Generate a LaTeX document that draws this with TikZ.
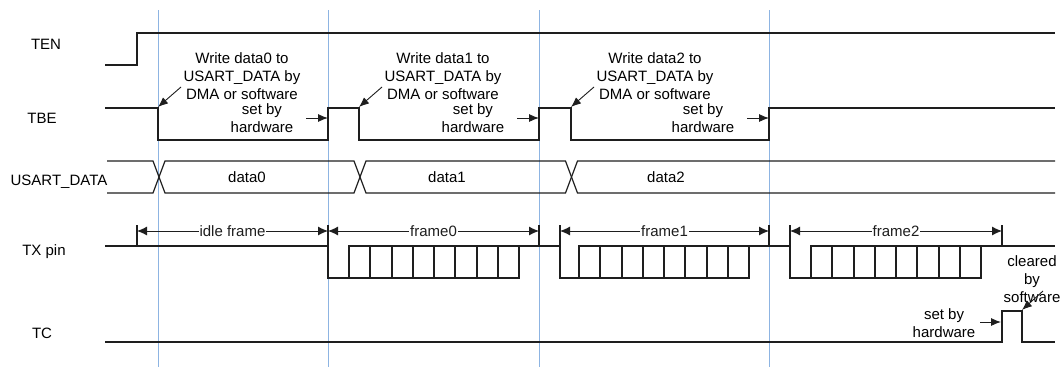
\documentclass[tikz,border=0pt]{standalone}
\usepackage{fontspec}
\setmainfont{Liberation Sans}
\usetikzlibrary{arrows.meta}
\definecolor{guideblue}{RGB}{141,180,226}
\definecolor{wave}{RGB}{30,30,30}

\begin{document}
\begin{tikzpicture}[x=1pt,y=-1pt,
        sig/.style={line width=1.2pt,wave},
        guide/.style={guideblue,line width=1pt},
        dim/.style={{Latex[length=10pt,width=9pt]}-{Latex[length=10pt,width=9pt]},line width=0.9pt,wave},
        note/.style={-{Latex[length=10pt,width=8pt]},line width=0.9pt,wave},
        lbl/.style={inner sep=0pt,font=\fontsize{15}{18}\selectfont,align=center},
        dimlbl/.style={lbl,fill=white,inner xsep=1pt,inner ysep=2pt}]
    \useasboundingbox (0,0) rectangle (1063,367);
    \foreach \x in {158,328,539,769}
        \draw[guide] (\x,10) -- (\x,367);

    \node[lbl] (ten) at (46,44) {TEN};
    \node[lbl] (tbe) at (42,118) {TBE};
    \node[lbl] (udata) at (59,182) {USART\_DATA};
    \node[lbl] (txpin) at (44,252) {TX pin};
    \node[lbl] (tc) at (42,333) {TC};

    \draw[sig] (105,65) -- (137,65) -- (137,33) -- (1055,33);

    \draw[sig] (105,108) -- (158,108) -- (158,140) -- (328,140) -- (328,108)
        -- (359,108) -- (359,140) -- (539,140) -- (539,108)
        -- (571,108) -- (571,140) -- (769,140) -- (769,108) -- (1055,108);
    \foreach \f/\r/\n in {158/328/0,359/539/1,571/769/2} {
        \node[lbl] (write\n) at (\f+84,76.5) {Write data\n{} to\\USART\_DATA by\\DMA or software};
        \node[lbl] (hwset\n) at (\r-66,118) {set by\\hardware};
        \coordinate (wfrom\n) at (\f+23,87);
        \coordinate (wto\n) at (\f,107);
        \coordinate (sfrom\n) at (\r-22,118);
        \coordinate (sto\n) at (\r,118);
        \draw[note] (wfrom\n) -- (wto\n);
        \draw[note] (sfrom\n) -- (sto\n);
    }

    \draw[sig] (107,161) -- (153,161) -- (165,193) -- (354,193) -- (366,161)
        -- (565.5,161) -- (577.5,193) -- (1055,193);
    \draw[sig] (107,193) -- (153,193) -- (165,161) -- (354,161) -- (366,193)
        -- (565.5,193) -- (577.5,161) -- (1055,161);
    \node[lbl] (data0) at (247,177) {data0};
    \node[lbl] (data1) at (447,177) {data1};
    \node[lbl] (data2) at (666,177) {data2};

    \draw[sig] (105,246) -- (328,246) -- (328,278) -- (349,278);
    \foreach \s in {349,579,811} {
        \draw[sig] (\s,246) rectangle (\s+170,278);
        \foreach \k in {1,...,7}
            \draw[sig] ({round(\s+21.25*\k)},246) -- ({round(\s+21.25*\k)},278);
    }
    \draw[sig] (519,246) -- (560,246) -- (560,278) -- (579,278);
    \draw[sig] (749,246) -- (790,246) -- (790,278) -- (811,278);
    \draw[sig] (981,246) -- (1055,246);
    \foreach \x in {137,328,539,560,769,790,1002}
        \draw[sig] (\x,225) -- (\x,246);
    \foreach \a/\b/\nm/\txt in {137/328/idle/idle frame,328/539/fzero/frame0,
            560/769/fone/frame1,790/1002/ftwo/frame2} {
        \coordinate (\nm A) at (\a,231);
        \coordinate (\nm B) at (\b,231);
        \draw[dim] (\nm A) -- (\nm B) node[dimlbl,midway] (\nm lbl) {\txt};
    }

    \draw[sig] (105,342) -- (1002,342) -- (1002,311) -- (1022,311) -- (1022,342) -- (1055,342);
    \node[lbl] (tcset) at (944,323.5) {set by\\hardware};
    \node[lbl] (tcclr) at (1032,279) {cleared\\by\\software};
    \coordinate (tcsfrom) at (980,322);
    \coordinate (tcsto) at (1001,322);
    \coordinate (tccfrom) at (1043,291);
    \coordinate (tccto) at (1022,310);
    \draw[note] (tcsfrom) -- (tcsto);
    \draw[note] (tccfrom) -- (tccto);
\end{tikzpicture}
\end{document}
